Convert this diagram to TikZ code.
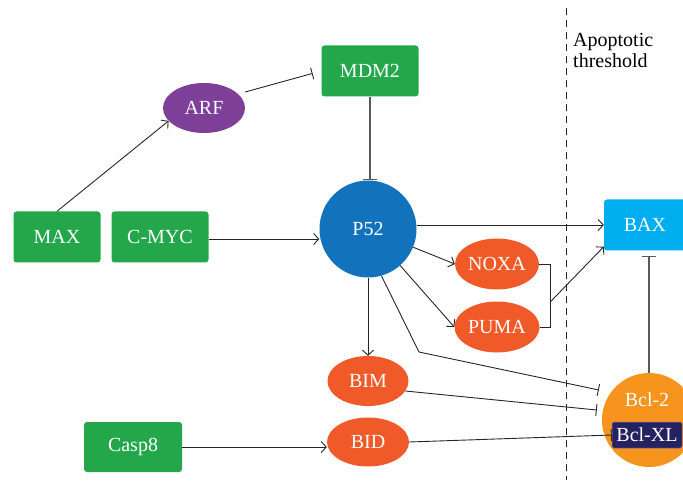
\documentclass[tikz,border=0pt]{standalone}
\usepackage{fontspec}
\setmainfont{Liberation Serif}
\usepackage{tikz}
\usetikzlibrary{arrows.meta, positioning, shapes.geometric}

\definecolor{genegreen}{RGB}{35,167,74}
\definecolor{arfpurple}{RGB}{125,63,152}
\definecolor{pblue}{RGB}{18,115,188}
\definecolor{bhorange}{RGB}{240,90,40}
\definecolor{baxcyan}{RGB}{0,174,239}
\definecolor{bclorange}{RGB}{247,148,29}
\definecolor{bclnavy}{RGB}{38,34,98}

\begin{document}
\begin{tikzpicture} [x = 1pt, y = 1pt, on grid, font=\fontsize{20}{21}\selectfont,
		box/.style = {rectangle, rounded corners = 3pt, fill = genegreen, text = white, minimum height = 51pt},
		oval/.style = {ellipse, fill = bhorange, text = white, inner sep = 0pt, minimum width = 82pt, minimum height = 50pt},
		act/.style = {-{Straight Barb[length = 5pt, width = 11pt]}, line width = 0.9pt, black!85},
		inh/.style = {-{Bar[width = 12pt]}, line width = 0.9pt, black!85}]
			% Page frame
			\useasboundingbox (0,0) rectangle (683,480);
			% Threshold line and its label
			\coordinate (thrtop) at (566,472);
			\coordinate (thrbot) at (566,0);
			\draw [dash pattern = on 7pt off 5pt, line width = 0.9pt, black!85] (thrtop) -- (thrbot);
			\node (thr) [anchor = north west, align = left, inner sep = 0pt] at (573,447) {Apoptotic\\threshold};

			% P52 : every other node is placed from this one
			\node (p52) [circle, fill = pblue, text = white, minimum size = 97pt] at (368,251) {P52};

			\node (mdm2) [box, minimum width = 97pt, above right = 158pt and 2pt of p52] {MDM2};
			\node (arf) [oval, fill = arfpurple, minimum width = 82pt, below left = 37pt and 166pt of mdm2] {ARF};
			\node (cmyc) [box, minimum width = 97pt, below left = 8pt and 208pt of p52] {C-MYC};
			\node (max) [box, minimum width = 87pt, left = 103pt of cmyc] {MAX};

			\node (noxa) [oval, minimum width = 84pt, minimum height = 51pt, below right = 35pt and 129pt of p52] {NOXA};
			\node (puma) [oval, minimum width = 85pt, minimum height = 51pt, below = 63pt of noxa] {PUMA};
			\node (bim) [oval, minimum width = 81pt, below = 152pt of p52] {BIM};
			\node (bid) [oval, minimum width = 82pt, minimum height = 49pt, below = 61pt of bim] {BID};
			\node (casp8) [box, minimum width = 98pt, minimum height = 50pt, below left = 5pt and 235pt of bid] {Casp8};

			% Right hand side
			\node (bax) [box, fill = baxcyan, minimum width = 82pt, above right = 4pt and 277pt of p52] {BAX};
			\node (bcl2) [circle, fill = bclorange, minimum size = 94pt, below right = 195pt and 4pt of bax] {};
			\node (bcltxt) [text = white, above left = 20pt and 2pt of bcl2] {Bcl-2};
			\node (bclxl) [rectangle, rounded corners = 2pt, fill = bclnavy, draw = bclnavy!60!white, line width = 0.5pt,
			text = white, minimum width = 70pt, minimum height = 26pt, inner sep = 1pt, below left = 15pt and 2pt of bcl2] {Bcl-XL};

			% Helper points
			\coordinate (kink) at ([xshift = 51pt, yshift = -123pt]p52.center);
			\coordinate (brk) at ([xshift = 11pt, yshift = -38pt]noxa.east);

			% Connections
			\draw [act] (max.north) -- (arf.200);
			\draw [inh, shorten >= 9pt] ([yshift = 16pt]arf.east) -- (mdm2.west);
			\draw [-{Bar[width = 14pt]}, line width = 1.3pt, black!65] (mdm2.south) -- (mdm2.south |- p52.north);
			\draw [act] ([yshift = -2pt]cmyc.east) -- ([yshift = -2pt]cmyc.east -| p52.west);
			\draw [act] (p52.east |- bax.west) -- (bax.west);
			\draw [act] (p52) -- (noxa.west);
			\draw [act] (p52) -- (puma.west);
			\draw [act] (p52) -- (bim);
			\draw [inh] (p52.-74) -- (kink) -- ([xshift = -3pt, yshift = 30pt]bcl2.west);
			\draw [inh] (bim.-15) -- ([xshift = -5pt, yshift = 10pt]bcl2.west);
			\draw [inh] (bid.east) -- (bclxl.west);
			\draw [act] (casp8.east) -- (casp8.east -| bid.west);
			\draw [line width = 0.9pt, black!85] (noxa.east) -- ++(11,0) |- (puma.east);
			\draw [act] (brk) -- ([yshift = 4pt]bax.south west);
			\draw [-{Bar[width = 14pt]}, line width = 1.3pt, black!65] (bcl2.north) -- ([yshift = -5pt]bcl2.north |- bax.south);
		\end{tikzpicture}
\end{document}
